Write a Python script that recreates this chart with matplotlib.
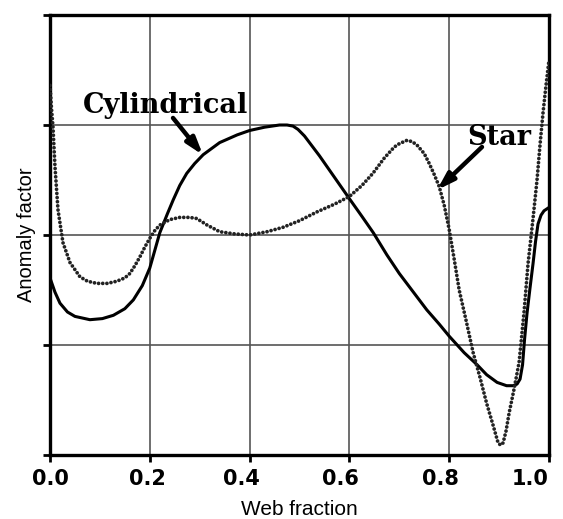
import matplotlib
matplotlib.use("Agg")
import matplotlib.pyplot as plt
from matplotlib.transforms import ScaledTranslation

# Cylindrical grain (solid)
cyl_x = [0.0, 0.01, 0.02, 0.035, 0.05, 0.08, 0.105, 0.127, 0.15, 0.167, 0.185, 0.2, 0.21, 0.22,
         0.235, 0.247, 0.26, 0.274, 0.29, 0.307, 0.325, 0.34, 0.355, 0.375, 0.40, 0.43, 0.46,
         0.475, 0.487, 0.497, 0.51, 0.52, 0.54, 0.56, 0.58, 0.60, 0.625, 0.648, 0.675, 0.70, 0.73,
         0.755, 0.78, 0.80, 0.83, 0.856, 0.875, 0.896, 0.915, 0.928, 0.936, 0.942, 0.947, 0.951,
         0.956, 0.962, 0.968, 0.973, 0.978, 0.984, 0.99, 1.0]
cyl_y = [1.61, 1.48, 1.38, 1.30, 1.26, 1.23, 1.24, 1.27, 1.33, 1.41, 1.54, 1.70, 1.86, 2.02,
         2.19, 2.32, 2.45, 2.56, 2.65, 2.73, 2.79, 2.84, 2.87, 2.91, 2.95, 2.98, 3.0,
         3.0, 2.99, 2.96, 2.90, 2.84, 2.72, 2.59, 2.46, 2.33, 2.17, 2.02, 1.82, 1.65, 1.47,
         1.32, 1.19, 1.08, 0.93, 0.82, 0.73, 0.66, 0.63, 0.63, 0.645, 0.69, 0.82, 1.05,
         1.29, 1.52, 1.74, 1.94, 2.10, 2.18, 2.22, 2.25]

# Star grain (dotted)
star_x = [0.0, 0.003, 0.006, 0.01, 0.016, 0.026, 0.04, 0.06, 0.075, 0.094, 0.115, 0.134, 0.15,
          0.16, 0.17, 0.18, 0.19, 0.20, 0.21, 0.22, 0.24, 0.26, 0.28, 0.294, 0.315, 0.34,
          0.37, 0.40, 0.435, 0.467, 0.50, 0.535, 0.57, 0.60, 0.625, 0.647, 0.67, 0.69, 0.70,
          0.715, 0.725, 0.735, 0.75, 0.76, 0.77, 0.78, 0.79, 0.80, 0.81, 0.82, 0.835, 0.848,
          0.862, 0.875, 0.888, 0.898, 0.903, 0.908, 0.914, 0.92, 0.93, 0.94, 0.95, 0.958,
          0.968, 0.976, 0.982, 0.988, 0.994, 1.0]
star_y = [3.36, 3.15, 2.98, 2.62, 2.23, 1.93, 1.75, 1.62, 1.58, 1.56, 1.56, 1.58, 1.61,
          1.65, 1.72, 1.80, 1.89, 1.97, 2.04, 2.09, 2.14, 2.16, 2.16, 2.15, 2.09, 2.03,
          2.01, 2.0, 2.03, 2.07, 2.13, 2.21, 2.28, 2.35, 2.45, 2.56, 2.70, 2.80, 2.83,
          2.86, 2.85, 2.82, 2.74, 2.65, 2.55, 2.44, 2.27, 2.05, 1.78, 1.50, 1.20, 0.93,
          0.70, 0.47, 0.27, 0.11, 0.09, 0.11, 0.22, 0.38, 0.60, 0.84, 1.30, 1.74,
          2.15, 2.5, 2.82, 3.11, 3.36, 3.59]

x_ticks = [0.0, 0.2, 0.4, 0.6, 0.8, 1.0]
x_labels = ["0.0", "0.2", "0.4", "0.6", "0.8", "1.0"]
y_ticks = [0, 1, 2, 3, 4]

fig = plt.figure(figsize=(5.63, 5.19), dpi=100)
ax = fig.add_axes([50/563, 64/519, 499/563, 440/519])

ax.plot(cyl_x, cyl_y, color="black", lw=2.2, solid_capstyle="round", zorder=3)
ax.plot(star_x, star_y, color="#222222", lw=2.7, linestyle=(0, (0.01, 1.1)),
        dash_capstyle="round", zorder=3)

ax.set_xlim(0, 1)
ax.set_ylim(0, 4)
ax.set_xticks(x_ticks)
ax.set_xticklabels(x_labels, fontfamily="DejaVu Sans", fontweight="bold", fontsize=15)
ax.set_yticks(y_ticks)
ax.set_yticklabels([""] * len(y_ticks))
ax.grid(True, color="#555555", lw=1.2)
ax.set_axisbelow(True)
for s in ax.spines.values():
    s.set_linewidth(2.4)
ax.tick_params(axis="both", direction="out", length=5, width=2.0, pad=5)

# small horizontal shifts of tick labels as in the reference (in points)
shifts = [0, -2, -6, -6.5, -6.5, 0]
for lab, dx in zip(ax.get_xticklabels(), shifts):
    lab.set_transform(lab.get_transform() + ScaledTranslation(dx / 72, 0, fig.dpi_scale_trans))
ax.get_xticklabels()[-1].set_horizontalalignment("right")

ax.set_xlabel("Web fraction", fontfamily="Liberation Sans", fontsize=15, labelpad=8)
ax.set_ylabel("Anomaly factor", fontfamily="Liberation Sans", fontsize=14.5, labelpad=0)

ax.text(0.232, 3.18, "Cylindrical", fontfamily="DejaVu Serif", fontweight="bold",
        fontsize=19.5, ha="center", va="center", zorder=5)
ax.text(0.90, 2.89, "Star", fontfamily="DejaVu Serif", fontweight="bold",
        fontsize=19.5, ha="center", va="center", zorder=5)

arrow_style = dict(arrowstyle="-|>,head_length=1.0,head_width=0.32",
                   color="black", lw=3.2, shrinkA=0, shrinkB=0)
ax.annotate("", xy=(0.3066, 2.727), xytext=(0.2465, 3.064), arrowprops=arrow_style, zorder=5)
ax.annotate("", xy=(0.7756, 2.409), xytext=(0.8657, 2.80), arrowprops=arrow_style, zorder=5)

fig.savefig("out.png", dpi=100)
